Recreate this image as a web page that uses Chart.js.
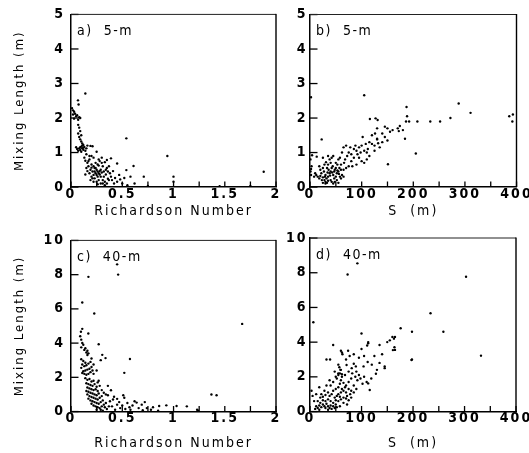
<!DOCTYPE html>
<html><head><meta charset="utf-8">
<script src="https://cdn.jsdelivr.net/npm/chart.js@4.4.0/dist/chart.umd.min.js"></script>
<style>
html,body{margin:0;padding:0;background:#fff;width:529px;height:453px;overflow:hidden}
canvas{position:absolute;display:block}
</style></head><body>
<canvas id="ca" width="290" height="226" style="left:0;top:0;width:290px;height:226px"></canvas>
<canvas id="cb" width="251" height="226" style="left:278px;top:0;width:251px;height:226px"></canvas>
<canvas id="cc" width="290" height="227" style="left:0;top:226px;width:290px;height:227px"></canvas>
<canvas id="cd" width="251" height="227" style="left:278px;top:226px;width:251px;height:227px"></canvas>
<script>
// ---- data: [x, mixing length (m)] ----
const panelLabels = ["a)  5-m", "b)  5-m", "c)  40-m", "d)  40-m"];
const xTitles = ["Richardson Number", "S  (m)"];
const yTitle = "Mixing Length (m)";
const riTickLabels = ["0", "0.5", "1", "1.5", "2"];
const sTickLabels = ["0", "100", "200", "300", "400"];

const ri5m = [
[0.01,2.28],[0.02,2.22],[0.03,2.18],[0.02,2.1],[0.04,2.12],[0.05,2.05],[0.06,2.08],[0.08,2.02],[0.07,1.95],[0.03,1.98],[0.09,2.0],
[0.068,2.51],[0.074,2.39],[0.14,2.71],
[0.07,1.8],[0.08,1.72],[0.09,1.62],[0.07,1.55],[0.1,1.5],[0.08,1.45],[0.09,1.38],[0.1,1.32],[0.11,1.26],[0.12,1.22],[0.1,1.17],[0.08,1.12],[0.09,1.07],[0.11,1.12],[0.13,1.16],[0.15,1.12],[0.12,1.08],[0.1,1.02],[0.14,1.05],[0.16,1.2],[0.19,1.19],[0.21,1.18],[0.06,1.1],[0.05,1.15],[0.11,1.2],[0.09,1.15],[0.12,1.14],[0.07,1.05],
[0.15,0.95],[0.13,0.85],[0.14,0.76],[0.16,0.7],[0.18,0.8],[0.2,0.9],[0.22,0.85],[0.25,1.02],[0.27,0.8],[0.3,0.85],[0.24,0.7],[0.2,0.65],[0.17,0.6],[0.15,0.55],[0.19,0.5],[0.21,0.45],[0.23,0.55],[0.25,0.5],[0.27,0.62],[0.29,0.5],[0.31,0.6],[0.33,0.72],[0.35,0.78],[0.37,0.6],[0.22,0.35],[0.24,0.4],[0.26,0.3],[0.28,0.36],[0.3,0.42],[0.32,0.3],[0.34,0.36],[0.36,0.24],[0.38,0.4],[0.2,0.3],[0.18,0.4],[0.23,0.25],[0.27,0.2],[0.31,0.2],[0.33,0.15],[0.35,0.1],[0.37,0.2],[0.39,0.3],[0.41,0.46],[0.43,0.26],[0.45,0.15],[0.48,0.22],[0.5,0.1],[0.52,0.26],[0.29,0.1],[0.25,0.15],[0.2,0.56],[0.22,0.6],[0.26,0.45],[0.28,0.46],[0.16,0.46],[0.14,0.36],[0.3,0.7],[0.34,0.5],[0.39,0.83],[0.45,0.68],[0.54,0.49],[0.58,0.3],[0.61,0.61],[0.54,1.41],[0.94,0.9],[1.88,0.44],[0.71,0.3],[1.0,0.3],[0.23,0.45],[0.25,0.35],[0.21,0.25],[0.19,0.2],[0.27,0.4],[0.29,0.3],[0.32,0.45],[0.24,0.55],[0.26,0.65],[0.28,0.75],[0.18,0.9],[0.17,0.75],[0.35,0.55],[0.4,0.2],[0.42,0.1],[0.36,0.45],[0.47,0.35],[0.31,0.1],[0.33,0.05],[0.22,0.15],[0.26,0.08],[1.0,0.15],[1.75,0.03],[1.45,0.02],[0.75,0.03],[0.55,0.05],[0.62,0.1]
];

const s5m = [
[2,2.6],[1,0.45],[2,0.52],[3,0.6],[1,0.8],[4,0.92],[2,0.35],[13,0.88],[22.6,1.38],
[15,0.3],[18,0.25],[20,0.32],[22,0.4],[25,0.28],[28,0.2],[30,0.15],[32,0.25],[30,0.35],[27,0.45],[25,0.55],[35,0.3],[38,0.4],[36,0.5],[40,0.45],[42,0.55],[45,0.35],[47,0.25],[50,0.3],[52,0.4],[48,0.5],[44,0.6],[40,0.7],[38,0.8],[35,0.65],[33,0.55],[55,0.45],[57,0.55],[53,0.65],[50,0.7],[55,0.8],[58,0.85],[60,0.5],[62,0.35],[30,0.1],[33,0.12],[35,0.18],[25,0.12],[40,0.2],[42,0.15],[45,0.1],[48,0.15],[20,0.5],[18,0.6],[28,0.65],[31,0.72],[42,0.85],[45,0.9],[35,0.9],[25,0.85],[52,0.2],[55,0.12],[58,0.3],[60,0.25],[65,0.3],[43,0.42],[39,0.33],[34,0.42],[29,0.3],[47,0.45],[50,0.55],[53,0.48],[56,0.38],[23,0.2],[12,0.35],[10,0.4],[8,0.3],
[65,1.15],[70,1.2],[75,1.0],[80,0.95],[85,1.1],[90,1.05],[95,1.15],[100,1.2],[105,1.05],[110,1.0],[115,1.3],[120,1.25],[125,1.2],[95,0.85],[100,0.75],[105,0.7],[110,0.8],[90,0.65],[80,0.75],[70,0.55],[75,0.6],[65,0.5],[85,0.85],[120,1.5],[130,1.4],[140,1.55],[145,1.45],[135,1.15],[140,1.3],[150,1.35],[125,1.05],[115,0.9],[155,1.6],[160,1.65],[145,1.75],[102,1.45],[105,2.66],[116,1.97],[127,1.99],[131,1.94],[130,1.7],[187,2.32],[188,2.05],[186,1.9],[192,1.9],[208,1.9],[233,1.9],[252,1.9],[272,2.0],[288,2.42],[311,2.15],[386,2.05],[393,2.1],[392,1.9],[205,0.97],[151,0.66],[184,1.4],[170,1.7],[174,1.77],[172,1.62],[126,1.55],[130,1.38],[132,1.27],[180,1.65],[150,1.7],[60,0.65],[68,0.8],[72,0.9],[62,1.0],[88,1.2],[92,0.95],[98,1.0],[112,1.1],[108,1.25],[78,1.15],[82,0.6],[66,0.7]
];

const ri40m = [
[0.17,7.87],[0.46,8.0],[0.45,8.6],[0.11,6.37],[0.227,5.73],[1.67,5.12],[0.11,4.83],[0.097,4.66],[0.169,4.56],[0.27,3.93],[0.305,3.31],[0.337,3.12],[0.575,3.07],[0.29,3.0],[0.52,2.26],[0.25,2.4],[0.27,1.8],[1.37,0.99],[1.42,0.95],
[0.09,4.4],[0.1,4.2],[0.11,4.0],[0.12,3.9],[0.1,3.75],[0.13,3.6],[0.14,3.7],[0.16,3.55],[0.15,3.45],[0.17,3.4],[0.16,3.3],
[0.1,3.05],[0.12,2.95],[0.14,2.85],[0.11,2.75],[0.13,2.65],[0.15,2.7],[0.17,2.8],[0.19,2.9],[0.2,2.6],[0.18,2.5],[0.16,2.45],[0.14,2.4],[0.12,2.35],[0.11,2.25],[0.13,2.2],[0.15,2.15],[0.17,2.2],[0.19,2.3],[0.21,2.4],[0.22,2.2],[0.1,2.55],[0.2,3.1],[0.22,2.75],
[0.14,1.95],[0.16,1.85],[0.18,1.9],[0.2,1.75],[0.22,1.8],[0.15,1.65],[0.17,1.6],[0.19,1.55],[0.21,1.5],[0.23,1.6],[0.25,1.45],[0.16,1.4],[0.18,1.35],[0.2,1.3],[0.22,1.25],[0.24,1.3],[0.26,1.2],[0.15,1.2],[0.17,1.15],[0.19,1.1],[0.21,1.05],[0.23,1.0],[0.25,0.95],[0.27,1.05],[0.16,1.0],[0.18,0.9],[0.2,0.85],[0.22,0.8],[0.24,0.75],[0.26,0.7],[0.28,0.8],[0.3,0.9],[0.17,0.75],[0.19,0.65],[0.21,0.6],[0.23,0.55],[0.25,0.5],[0.27,0.45],[0.29,0.55],[0.31,0.65],[0.2,0.45],[0.22,0.35],[0.24,0.3],[0.26,0.25],[0.28,0.2],[0.3,0.3],[0.32,0.4],[0.34,0.5],[0.33,0.25],[0.35,0.15],[0.29,0.1],[0.31,0.05],[0.25,0.1],[0.37,0.3],[0.28,1.5],[0.3,1.25],[0.32,1.1],[0.34,1.0],[0.39,1.24],[0.36,0.95],[0.42,0.86],[0.51,0.95],[0.45,0.74],[0.36,1.5],[0.26,1.7],
[0.4,0.3],[0.45,0.4],[0.48,0.2],[0.5,0.35],[0.53,0.15],[0.55,0.5],[0.57,0.25],[0.6,0.35],[0.64,0.52],[0.66,0.2],[0.69,0.4],[0.72,0.55],[0.74,0.2],[0.78,0.1],[0.8,0.25],[0.86,0.32],[0.93,0.36],[1.03,0.32],[1.13,0.3],[1.23,0.1],[1.24,0.05],[0.43,0.1],[0.38,0.6],[0.41,0.7],[0.47,0.55],[0.52,0.8],[0.58,0.1],[0.7,0.08],[0.85,0.05],[0.62,0.6]
];

const s40m = [
[73,7.9],[92,8.54],[303,7.77],[234,5.66],[259,4.6],[332,3.22],[198,4.6],[198,3.0],[176,4.8],[6.5,5.14],[165,4.3],[163,4.2],[164,3.7],[165,3.55],[100,4.5],[113,4.0],[111,3.8],[45,3.83],[116,1.24],[110,1.7],
[8,0.6],[5,0.9],[3,1.2],[12,0.3],[15,0.2],[18,0.35],[20,0.5],[22,0.25],[25,0.4],[28,0.3],[30,0.2],[32,0.45],[35,0.3],[38,0.2],[40,0.35],[15,0.6],[25,0.65],[30,0.6],[35,0.7],[40,0.6],[45,0.5],[48,0.8],[50,0.65],[52,0.9],[55,1.0],[58,0.85],[60,1.1],[62,1.3],[65,1.2],[68,1.4],[70,1.1],[72,0.9],[75,1.3],[78,1.0],[80,0.8],[55,1.4],[58,1.6],[60,1.8],[65,1.65],[70,1.5],[75,1.7],[80,1.9],[85,1.5],[45,1.2],[50,1.3],[42,1.0],[38,0.9],[35,1.1],[30,0.95],[25,0.85],[20,0.8],[45,0.3],[50,0.4],[55,0.6],[60,0.7],[65,0.8],[70,0.75],[75,0.65],[80,1.2],[85,1.1],[90,1.3],[22,1.0],[28,1.2],[18,0.1],[10,0.15],[35,0.1],[42,0.15],[48,0.2],[52,0.25],[65,0.5],[72,0.4],[58,0.3],[40,1.5],[45,1.7],[50,2.0],[55,2.2],[60,2.4],[48,2.3],[52,1.9],[62,2.0],[68,2.1],[75,2.3],[82,2.2],[88,2.0],[92,1.8],[95,2.1],[98,1.9],[105,2.0],[18,1.4],[12,1.0],[32,1.5],[38,1.8],
[32,3.0],[39,3.0],[60,3.5],[62,3.4],[63,3.3],[74,3.5],[77,3.2],[55,2.7],[57,2.55],[59,2.4],[71,2.68],[81,2.5],[85,2.75],[89,2.6],[104,2.6],[112,2.85],[120,2.7],[128,2.18],[119,1.9],[102,1.6],[145,2.6],[113,1.62],[135,2.8],[145,2.5],[155,4.1],[160,4.3],[55,2.1],[58,2.2],[62,2.15],[113,3.93],[135,3.83],[150,4.0],[161,3.54],[197,2.97],[95,3.1],[85,3.3],[100,3.6],[125,3.2],[140,3.3],[130,2.4],[90,2.3],[70,3.0],[105,3.2]
];

const FONT = "'Liberation Sans Narrow','DejaVu Sans Condensed','Liberation Sans',sans-serif";

const framePlugin = {
  id: 'frame',
  beforeDraw(chart) { chart.ctx.letterSpacing = '2px'; },
  afterDraw(chart, args, opts) {
    const ctx = chart.ctx;
    const a = chart.chartArea;
    const xs = chart.scales.x, ys = chart.scales.y;
    ctx.save();
    ctx.fillStyle = '#000';
    // inward tick marks placed by the library's own scales
    for (const t of xs.ticks) {
      const px = xs.getPixelForValue(t.value);
      ctx.fillRect(px - 0.6, a.bottom - 5.5, 1.3, 5.5);
    }
    for (const t of ys.ticks) {
      const py = ys.getPixelForValue(t.value);
      ctx.fillRect(a.left, py - 0.6, 7.5, 1.3);
    }
    // top & right frame
    ctx.fillStyle = '#222';
    ctx.fillRect(a.left, a.top - 0.5, a.right - a.left, 1);
    ctx.fillStyle = '#000';
    ctx.fillRect(a.right - 0.7, a.top - 0.5, 1.4, a.bottom - a.top + 0.5);
    // panel label
    ctx.letterSpacing = '1.5px';
    ctx.font = '14px ' + FONT;
    ctx.textBaseline = 'middle';
    ctx.textAlign = 'left';
    ctx.fillText(opts.label, a.left + 6, a.top + 17);
    ctx.restore();
  }
};

function makePanel(id, pts, cfg) {
  new Chart(document.getElementById(id), {
    type: 'scatter',
    data: { datasets: [{ data: pts.map(p => ({x: p[0], y: p[1]})), pointRadius: 1.2, pointHoverRadius: 1.2, backgroundColor: '#000', borderWidth: 0 }] },
    options: {
      responsive: false, animation: false, devicePixelRatio: 1,
      layout: { padding: { left: 0, top: cfg.top, right: cfg.right, bottom: 0 } },
      plugins: { legend: { display: false }, tooltip: { enabled: false }, frame: { label: cfg.label } },
      scales: {
        x: {
          type: 'linear', min: 0, max: cfg.xMax,
          afterFit: s => { s.height = cfg.xH; },
          border: { display: true, color: '#000', width: 1.5 },
          grid: { display: true, drawOnChartArea: false, drawTicks: false, color: '#000' },
          ticks: { stepSize: cfg.xStep, autoSkip: false, maxRotation: 0, color: '#000', padding: -1.4,
                   font: { family: FONT, size: 14, weight: 'bold' },
                   callback: (v) => { const i = Math.round(v / cfg.xLabStep); return Math.abs(v - i * cfg.xLabStep) < 1e-6 ? cfg.xLabels[i] : ''; } },
          title: { display: true, text: cfg.xTitle, color: '#000', font: { family: FONT, size: 14 }, padding: { top: 0, bottom: cfg.xTitlePad } }
        },
        y: {
          type: 'linear', min: 0, max: cfg.yMax,
          afterFit: s => { s.width = cfg.yW; },
          border: { display: true, color: '#000', width: 1.5 },
          grid: { display: true, drawOnChartArea: false, drawTicks: false, color: '#000' },
          ticks: { stepSize: cfg.yStep, autoSkip: false, color: '#000', padding: cfg.yPad,
                   font: { family: FONT, size: 14, weight: 'bold' } },
          title: { display: cfg.yTitle, text: yTitle, color: '#000', font: { family: FONT, size: 13 }, padding: { top: 12.2, bottom: 0 } }
        }
      }
    },
    plugins: [framePlugin]
  });
}

makePanel('ca', ri5m, { label: panelLabels[0], top: 14, right: 14, xH: 39, yW: 71, xMax: 2, xStep: 0.25, xLabStep: 0.5, xLabels: riTickLabels, xTitle: xTitles[0], xTitlePad: 6.2, yMax: 5, yStep: 1, yPad: 6, yTitle: true });
makePanel('cb', s5m, { label: panelLabels[1], top: 14.5, right: 12.5, xH: 39, yW: 32, xMax: 400, xStep: 50, xLabStep: 100, xLabels: sTickLabels, xTitle: xTitles[1], xTitlePad: 6.2, yMax: 5, yStep: 1, yPad: 2.5, yTitle: false });
makePanel('cc', ri40m, { label: panelLabels[2], top: 12, right: 14, xH: 41.5, yW: 71, xMax: 2, xStep: 0.25, xLabStep: 0.5, xLabels: riTickLabels, xTitle: xTitles[0], xTitlePad: 1.2, yMax: 10, yStep: 2, yPad: 6, yTitle: true });
makePanel('cd', s40m, { label: panelLabels[3], top: 12, right: 13, xH: 41.5, yW: 32, xMax: 400, xStep: 50, xLabStep: 100, xLabels: sTickLabels, xTitle: xTitles[1], xTitlePad: 1.2, yMax: 10, yStep: 2, yPad: 2.5, yTitle: false });
</script>
</body></html>
